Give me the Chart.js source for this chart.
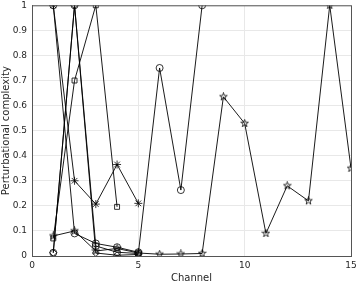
<!DOCTYPE html>
<html>
<head>
<meta charset="utf-8">
<script src="https://cdn.jsdelivr.net/npm/chart.js@4/dist/chart.umd.min.js"></script>
<style>
  html, body { margin: 0; padding: 0; background: #fff; }
  #wrap { width: 357px; height: 283px; }
</style>
</head>
<body>
<div id="wrap"><canvas id="chart"></canvas></div>
<script>
// values, one array per line (index 0 = channel 1)
const channels = [1, 2, 3, 4, 5, 6, 7, 8, 9, 10, 11, 12, 13, 14, 15];
const circleA = [0.013, 1.0, 0.04, 0.015, 0.01, 0.75, 0.263, 1.0];
const circleB = [1.0, 0.09, 0.05, 0.035, 0.015];
const diamondC = [0.013, 1.0, 0.012, 0.003, 0.006];
const asteriskD = [1.0, 0.3, 0.207, 0.365, 0.21];
const squareE = [0.07, 0.7, 1.0, 0.196];
const starF = [0.08, 0.1, 0.02, 0.03, 0.012, 0.007, 0.008, 0.01, 0.635, 0.529, 0.09, 0.28, 0.22, 1.0, 0.35];
const xTicks = [0, 5, 10, 15];
const yTickLabels = ['0', '0.1', '0.2', '0.3', '0.4', '0.5', '0.6', '0.7', '0.8', '0.9', '1'];

const ink = '#000';
const font = 'DejaVu Sans';

// pentagram marker (MATLAB 'p'), drawn once on a small canvas
function pentagram(size) {
  const cv = document.createElement('canvas');
  cv.width = size; cv.height = size;
  const g = cv.getContext('2d');
  const c = size / 2, ro = size / 2 - 0.5, ri = ro * 0.4;
  g.beginPath();
  for (let i = 0; i < 10; i++) {
    const r = i % 2 ? ri : ro;
    const a = -Math.PI / 2 + i * Math.PI / 5;
    const px = c + r * Math.cos(a), py = c + r * Math.sin(a);
    if (i === 0) g.moveTo(px, py); else g.lineTo(px, py);
  }
  g.closePath();
  g.strokeStyle = ink;
  g.lineWidth = 0.8;
  g.stroke();
  return cv;
}

function series(values, style, radius) {
  return {
    data: values.map((v, i) => ({ x: channels[i], y: v })),
    borderColor: ink,
    borderWidth: 0.9,
    backgroundColor: 'rgba(0,0,0,0)',
    pointStyle: style,
    pointRadius: radius,
    pointBorderColor: ink,
    pointBorderWidth: 0.8,
    pointBackgroundColor: 'rgba(0,0,0,0)',
    tension: 0,
    fill: false,
  };
}

// MATLAB-style box around the axes
const boxPlugin = {
  id: 'box',
  afterDraw(chart) {
    const { ctx, chartArea: a } = chart;
    ctx.save();
    ctx.strokeStyle = '#555';
    ctx.lineWidth = 1;
    ctx.strokeRect(a.left + 0.5, a.top + 0.5, a.right - a.left, a.bottom - a.top);
    ctx.restore();
  }
};

new Chart(document.getElementById('chart'), {
  type: 'line',
  data: {
    datasets: [
      series(circleA, 'circle', 3.5),
      series(circleB, 'circle', 3.5),
      series(diamondC, 'rectRot', 3.5),
      series(asteriskD, 'star', 4),
      series(squareE, 'rect', 3.5),
      series(starF, pentagram(9), 4.5),
    ],
  },
  options: {
    responsive: true,
    maintainAspectRatio: false,
    animation: false,
    layout: { padding: { top: 5, right: 6, left: 0, bottom: 0 } },
    plugins: { legend: { display: false }, tooltip: { enabled: false } },
    scales: {
      x: {
        type: 'linear',
        min: 0,
        max: 15,
        afterBuildTicks: (s) => { s.ticks = xTicks.map(v => ({ value: v })); },
        afterFit: (s) => { s.height = 27; s.paddingLeft = 0; s.paddingRight = 0; },
        grid: { color: '#e8e8e8', drawTicks: false },
        border: { color: '#555' },
        ticks: { color: '#262626', font: { family: font, size: 9 }, padding: 4, maxRotation: 0 },
        title: { display: true, text: 'Channel', color: '#262626', font: { family: font, size: 10 }, padding: { top: 0, bottom: -1 } },
      },
      y: {
        min: 0,
        max: 1,
        afterBuildTicks: (s) => { s.ticks = yTickLabels.map((t, i) => ({ value: i / 10 })); },
        afterFit: (s) => { s.width = 32; s.paddingTop = 0; s.paddingBottom = 0; },
        grid: { color: '#e8e8e8', drawTicks: false },
        border: { color: '#555' },
        ticks: {
          color: '#262626',
          font: { family: font, size: 9 },
          padding: 5,
          callback: (v, i) => yTickLabels[i],
        },
        title: { display: true, text: 'Perturbational complexity', color: '#262626', font: { family: font, size: 10 }, padding: 0 },
      },
    },
  },
  plugins: [boxPlugin],
});
</script>
</body>
</html>
